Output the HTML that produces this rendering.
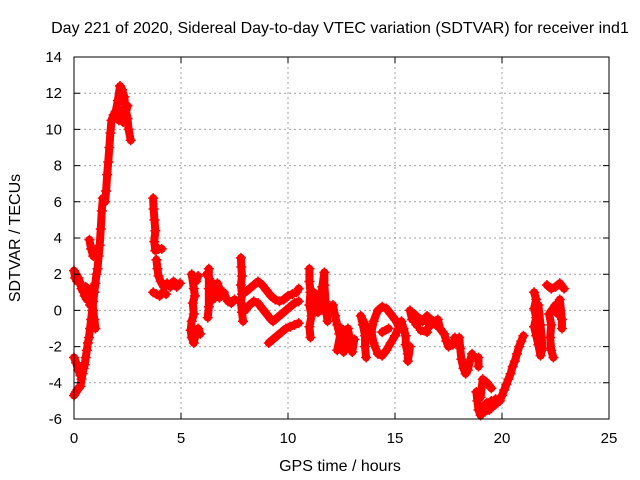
<!DOCTYPE html>
<html><head><meta charset="utf-8">
<style>
html,body{margin:0;padding:0;background:#fff;}
svg{display:block;font-family:"Liberation Sans",sans-serif;}
</style></head>
<body>
<svg id="chart" width="640" height="480" viewBox="0 0 640 480" xmlns="http://www.w3.org/2000/svg">
<text x="340" y="33" font-size="16" text-anchor="middle">Day 221 of 2020, Sidereal Day-to-day VTEC variation (SDTVAR) for receiver ind1</text>
<text x="340" y="471" font-size="16" text-anchor="middle">GPS time / hours</text>
<text x="0" y="0" font-size="16" text-anchor="middle" transform="translate(20,238) rotate(-90)">SDTVAR / TECUs</text>
<g id="grid"></g>
<g id="marks"></g>
<g id="axes"></g>
</svg>
<script>
const xTicks = [0, 5, 10, 15, 20, 25];
const yTicks = [-6, -4, -2, 0, 2, 4, 6, 8, 10, 12, 14];
const seg1T = [0,0.05,0.1,0.15,0.2,0.3,0.35,0.45,0.5,0.55,0.6,0.7,0.75,0.8,0.85,0.9,0.95,1.0];
const seg1V = [2.2,1.8,2.0,1.6,1.8,1.5,1.2,1.0,0.8,1.3,0.6,1.0,0.3,1.2,0.5,0.0,-0.5,-1.0];
const seg2T = [0,0.05,0.1,0.15,0.2,0.3,0.35,0.4,0.45,0.5,0.55,0.6,0.65,0.7,0.75,0.8,0.85,0.9,0.95,1.0,1.05,1.1,1.15,1.2,1.25,1.3,1.35,1.45,1.5,1.55,1.6,1.65,1.7,1.75,1.85,1.95,2.05,2.15,2.25,2.35,2.4,2.5,2.55,2.65];
const seg2V = [-4.7,-4.6,-4.5,-4.4,-4.3,-4.2,-3.8,-3.5,-3.2,-3.0,-2.6,-2.2,-1.8,-1.5,-1.0,-0.5,0.0,0.5,1.0,1.5,2.0,2.3,3.0,3.6,4.5,5.5,6.2,6.0,6.6,7.5,8.2,9.0,9.8,10.5,10.8,11.0,11.6,12.4,12.2,11.8,11.2,10.6,10.0,9.4];
const seg3T = [0.0,0.1,0.2,0.3];
const seg3V = [-2.6,-2.9,-3.3,-3.6];
const seg4T = [0.72,0.8,0.9,1.0];
const seg4V = [3.9,3.4,3.0,3.3];
const seg5T = [2.1,2.2,2.3,2.4,2.5];
const seg5V = [10.5,11.0,10.4,10.8,11.3];
const seg6T = [3.7,3.72,3.76,3.8,3.75,3.8,3.95,4.1];
const seg6V = [6.2,5.6,5.0,4.4,3.8,3.3,3.4,3.4];
const seg7T = [3.85,3.9,3.95,4.05,4.2,4.35,4.5,4.65,4.8,4.95];
const seg7V = [2.8,2.3,1.9,1.6,1.3,1.5,1.3,1.6,1.3,1.5];
const seg8T = [3.7,3.85,4.0,4.15,4.3];
const seg8V = [1.0,0.9,0.8,1.0,0.9];
const seg9T = [5.8,5.7,5.5,5.6,5.65,5.55,5.6,5.5,5.45,5.5,5.6,5.7,5.8,5.9];
const seg9V = [1.9,1.6,2.0,1.2,0.8,0.4,-0.2,-0.6,-1.1,-1.5,-1.8,-1.2,-1.0,-1.3];
const seg10T = [6.3,6.3,6.3,6.25];
const seg10V = [2.3,1.2,0.2,-0.4];
const seg11T = [6.2,6.4,6.5,6.6,6.7,6.8,6.9,7.0,7.1,7.2,7.35,7.5];
const seg11V = [2.0,1.6,1.4,1.2,1.5,1.2,0.9,1.0,0.7,0.5,0.4,0.6];
const seg12T = [6.5,6.6,6.8];
const seg12V = [0.6,0.9,0.7];
const seg13T = [7.8,7.82,7.85,7.8,7.85,7.8,7.85,7.9];
const seg13V = [2.9,2.4,1.9,1.4,0.9,0.4,-0.1,-0.6];
const seg14T = [8.0,8.2,8.4,8.6,8.8,9.0,9.2,9.4,9.6,9.8,10.0,10.2,10.4,10.5];
const seg14V = [1.0,1.2,1.4,1.6,1.4,1.1,0.8,0.6,0.5,0.6,0.8,0.9,1.0,1.2];
const seg15T = [8.0,8.2,8.4,8.6,8.8,9.0,9.2,9.3,9.5,9.7,9.9,10.1,10.3,10.5];
const seg15V = [0.0,0.3,0.5,0.4,0.1,-0.2,-0.5,-0.6,-0.4,-0.2,0.0,0.2,0.4,0.5];
const seg16T = [9.1,9.3,9.5,9.7,9.9,10.1,10.3,10.5];
const seg16V = [-1.8,-1.6,-1.4,-1.2,-1.0,-0.9,-0.8,-0.7];
const seg17T = [11.0,11.0,11.05,11.0,11.1,11.0,11.05];
const seg17V = [2.3,1.6,1.0,0.3,-0.3,-0.9,-1.5];
const seg18T = [11.2,11.3,11.4,11.5,11.6,11.7,11.7,11.75,11.8,11.85];
const seg18V = [1.0,0.5,-0.1,0.6,1.3,2.1,1.4,0.5,-0.2,-0.6];
const seg19T = [12.1,12.2,12.3,12.4,12.5,12.6,12.7,12.8,12.9,13.0,13.1];
const seg19V = [0.3,-0.3,-0.8,-1.3,-1.8,-2.3,-1.5,-1.0,-1.7,-2.3,-1.6];
const seg20T = [12.3,12.5,12.6];
const seg20V = [-2.2,-1.0,-1.6];
const seg21T = [13.7,13.4,13.5,13.6,13.6,13.65];
const seg21V = [-1.0,-0.3,-0.8,-1.4,-2.0,-2.6];
const seg22T = [14.0,14.2,14.4,14.6,14.8,15.0,15.2,15.0,14.8,14.6,14.4,14.2,14.0,13.9,14.0];
const seg22V = [-0.6,0.0,0.2,0.1,-0.2,-0.5,-0.9,-1.4,-1.8,-2.2,-2.5,-2.4,-1.8,-1.2,-0.6];
const seg23T = [14.4,14.7];
const seg23V = [-1.2,-1.0];
const seg24T = [15.3,15.4,15.5,15.5,15.6,15.6,15.7];
const seg24V = [-0.6,-1.0,-1.4,-1.9,-2.4,-2.8,-2.0];
const seg25T = [15.7,15.8,15.9,16.0,16.1,16.3,16.5,16.6,16.7,16.9,17.0,17.1,17.3,17.4,17.5,17.7,17.8];
const seg25V = [0.0,-0.5,-0.2,-0.8,-0.4,-0.6,-0.3,-0.9,-0.5,-0.8,-0.5,-1.0,-1.3,-1.7,-2.0,-1.9,-1.5];
const seg26T = [16.2,16.5];
const seg26V = [-1.1,-1.2];
const seg27T = [18.0,18.05,18.1,18.2,18.3,18.4,18.5,18.6];
const seg27V = [-1.5,-2.1,-2.7,-3.2,-3.5,-3.3,-2.8,-2.4];
const seg28T = [18.9,18.9];
const seg28V = [-2.6,-3.1];
const seg29T = [18.8,18.85,18.9,19.0,19.1,19.2,19.3,19.4,19.5,19.6,19.7,19.8];
const seg29V = [-4.5,-5.0,-5.5,-5.8,-5.3,-5.6,-5.1,-5.5,-5.0,-5.3,-4.9,-5.1];
const seg30T = [19.0,19.1,19.3,19.5];
const seg30V = [-4.8,-3.8,-4.0,-4.3];
const seg31T = [19.9,20.0,20.1,20.2,20.3,20.4,20.5,20.6,20.7,20.8,20.9,21.0];
const seg31V = [-5.0,-4.7,-4.4,-4.1,-3.8,-3.5,-3.1,-2.8,-2.4,-2.0,-1.7,-1.4];
const seg32T = [21.5,21.6,21.5,21.6,21.5,21.6,21.7,21.8,21.9,21.8,21.7];
const seg32V = [1.0,0.6,0.1,-0.4,-0.9,-1.4,-1.9,-2.5,-2.1,-0.8,0.3];
const seg33T = [22.1,22.3,22.5,22.7,22.9];
const seg33V = [1.4,1.2,1.3,1.5,1.2];
const seg34T = [22.5,22.2,22.3,22.25,22.3,22.4];
const seg34V = [0.3,-0.2,-0.8,-1.5,-2.2,-2.6];
const seg35T = [22.6,22.7,22.8,22.8];
const seg35V = [-0.2,0.6,-0.5,-1.0];
const segTimes = [seg1T,seg2T,seg3T,seg4T,seg5T,seg6T,seg7T,seg8T,seg9T,seg10T,seg11T,seg12T,seg13T,seg14T,seg15T,seg16T,seg17T,seg18T,seg19T,seg20T,seg21T,seg22T,seg23T,seg24T,seg25T,seg26T,seg27T,seg28T,seg29T,seg30T,seg31T,seg32T,seg33T,seg34T,seg35T];
const segValues = [seg1V,seg2V,seg3V,seg4V,seg5V,seg6V,seg7V,seg8V,seg9V,seg10V,seg11V,seg12V,seg13V,seg14V,seg15V,seg16V,seg17V,seg18V,seg19V,seg20V,seg21V,seg22V,seg23V,seg24V,seg25V,seg26V,seg27V,seg28V,seg29V,seg30V,seg31V,seg32V,seg33V,seg34V,seg35V];

const NS = "http://www.w3.org/2000/svg";
const L = 74, R = 609, T = 57, B = 419;
const xMin = 0, xMax = 25, yMin = -6, yMax = 14;
function xs(t){ return L + (t - xMin) / (xMax - xMin) * (R - L); }
function ys(v){ return B - (v - yMin) / (yMax - yMin) * (B - T); }
function mk(tag, attrs){ const e = document.createElementNS(NS, tag); for (const k in attrs) e.setAttribute(k, attrs[k]); return e; }

const grid = document.getElementById('grid');
const axes = document.getElementById('axes');
const marks = document.getElementById('marks');

xTicks.forEach(t => {
  const x = xs(t);
  if (t > xMin && t < xMax) {
    const g = mk('line', {x1:x, x2:x, y1:T, y2:B, stroke:'#a0a0a0', 'stroke-width':1, 'stroke-dasharray':'2,3'});
    
    
    grid.appendChild(g);
  }
  const tk = mk('path', {d:`M${x},${B}v-6M${x},${T}v6`, stroke:'#000', 'stroke-width':1});
  
  
  axes.appendChild(tk);
  const lb = mk('text', {x:x, y:443, 'font-size':15, 'text-anchor':'middle'});
  lb.textContent = t;
  
  
  axes.appendChild(lb);
});
yTicks.forEach(v => {
  const y = ys(v);
  if (v > yMin && v < yMax) {
    const g = mk('line', {x1:L, x2:R, y1:y, y2:y, stroke:'#a0a0a0', 'stroke-width':1, 'stroke-dasharray':'2,3'});
    
    
    grid.appendChild(g);
  }
  const tk = mk('path', {d:`M${L},${y}h6M${R},${y}h-6`, stroke:'#000', 'stroke-width':1});
  
  
  axes.appendChild(tk);
  const lb = mk('text', {x:62, y:y + 5, 'font-size':15, 'text-anchor':'end'});
  lb.textContent = v;
  
  
  axes.appendChild(lb);
});
const frame = mk('rect', {x:L, y:T, width:R - L, height:B - T, fill:'none', stroke:'#000', 'stroke-width':1});


axes.appendChild(frame);

segTimes.forEach((ts, i) => {
  const vs = segValues[i];
  const pts = ts.map((t, j) => xs(t) + ',' + ys(vs[j])).join(' ');
  const pl = mk('polyline', {points:pts, fill:'none', stroke:'#ff0000', 'stroke-width':8, 'stroke-linejoin':'round', 'stroke-linecap':'round'});
  
  
  marks.appendChild(pl);
  ts.forEach((t, j) => {
    const x = xs(t), y = ys(vs[j]);
    const p = mk('path', {d:`M${x-5},${y}h10M${x},${y-5}v10`, stroke:'#ff0000', 'stroke-width':1.5});
    
    
    marks.appendChild(p);
  });
});
</script>
</body></html>
